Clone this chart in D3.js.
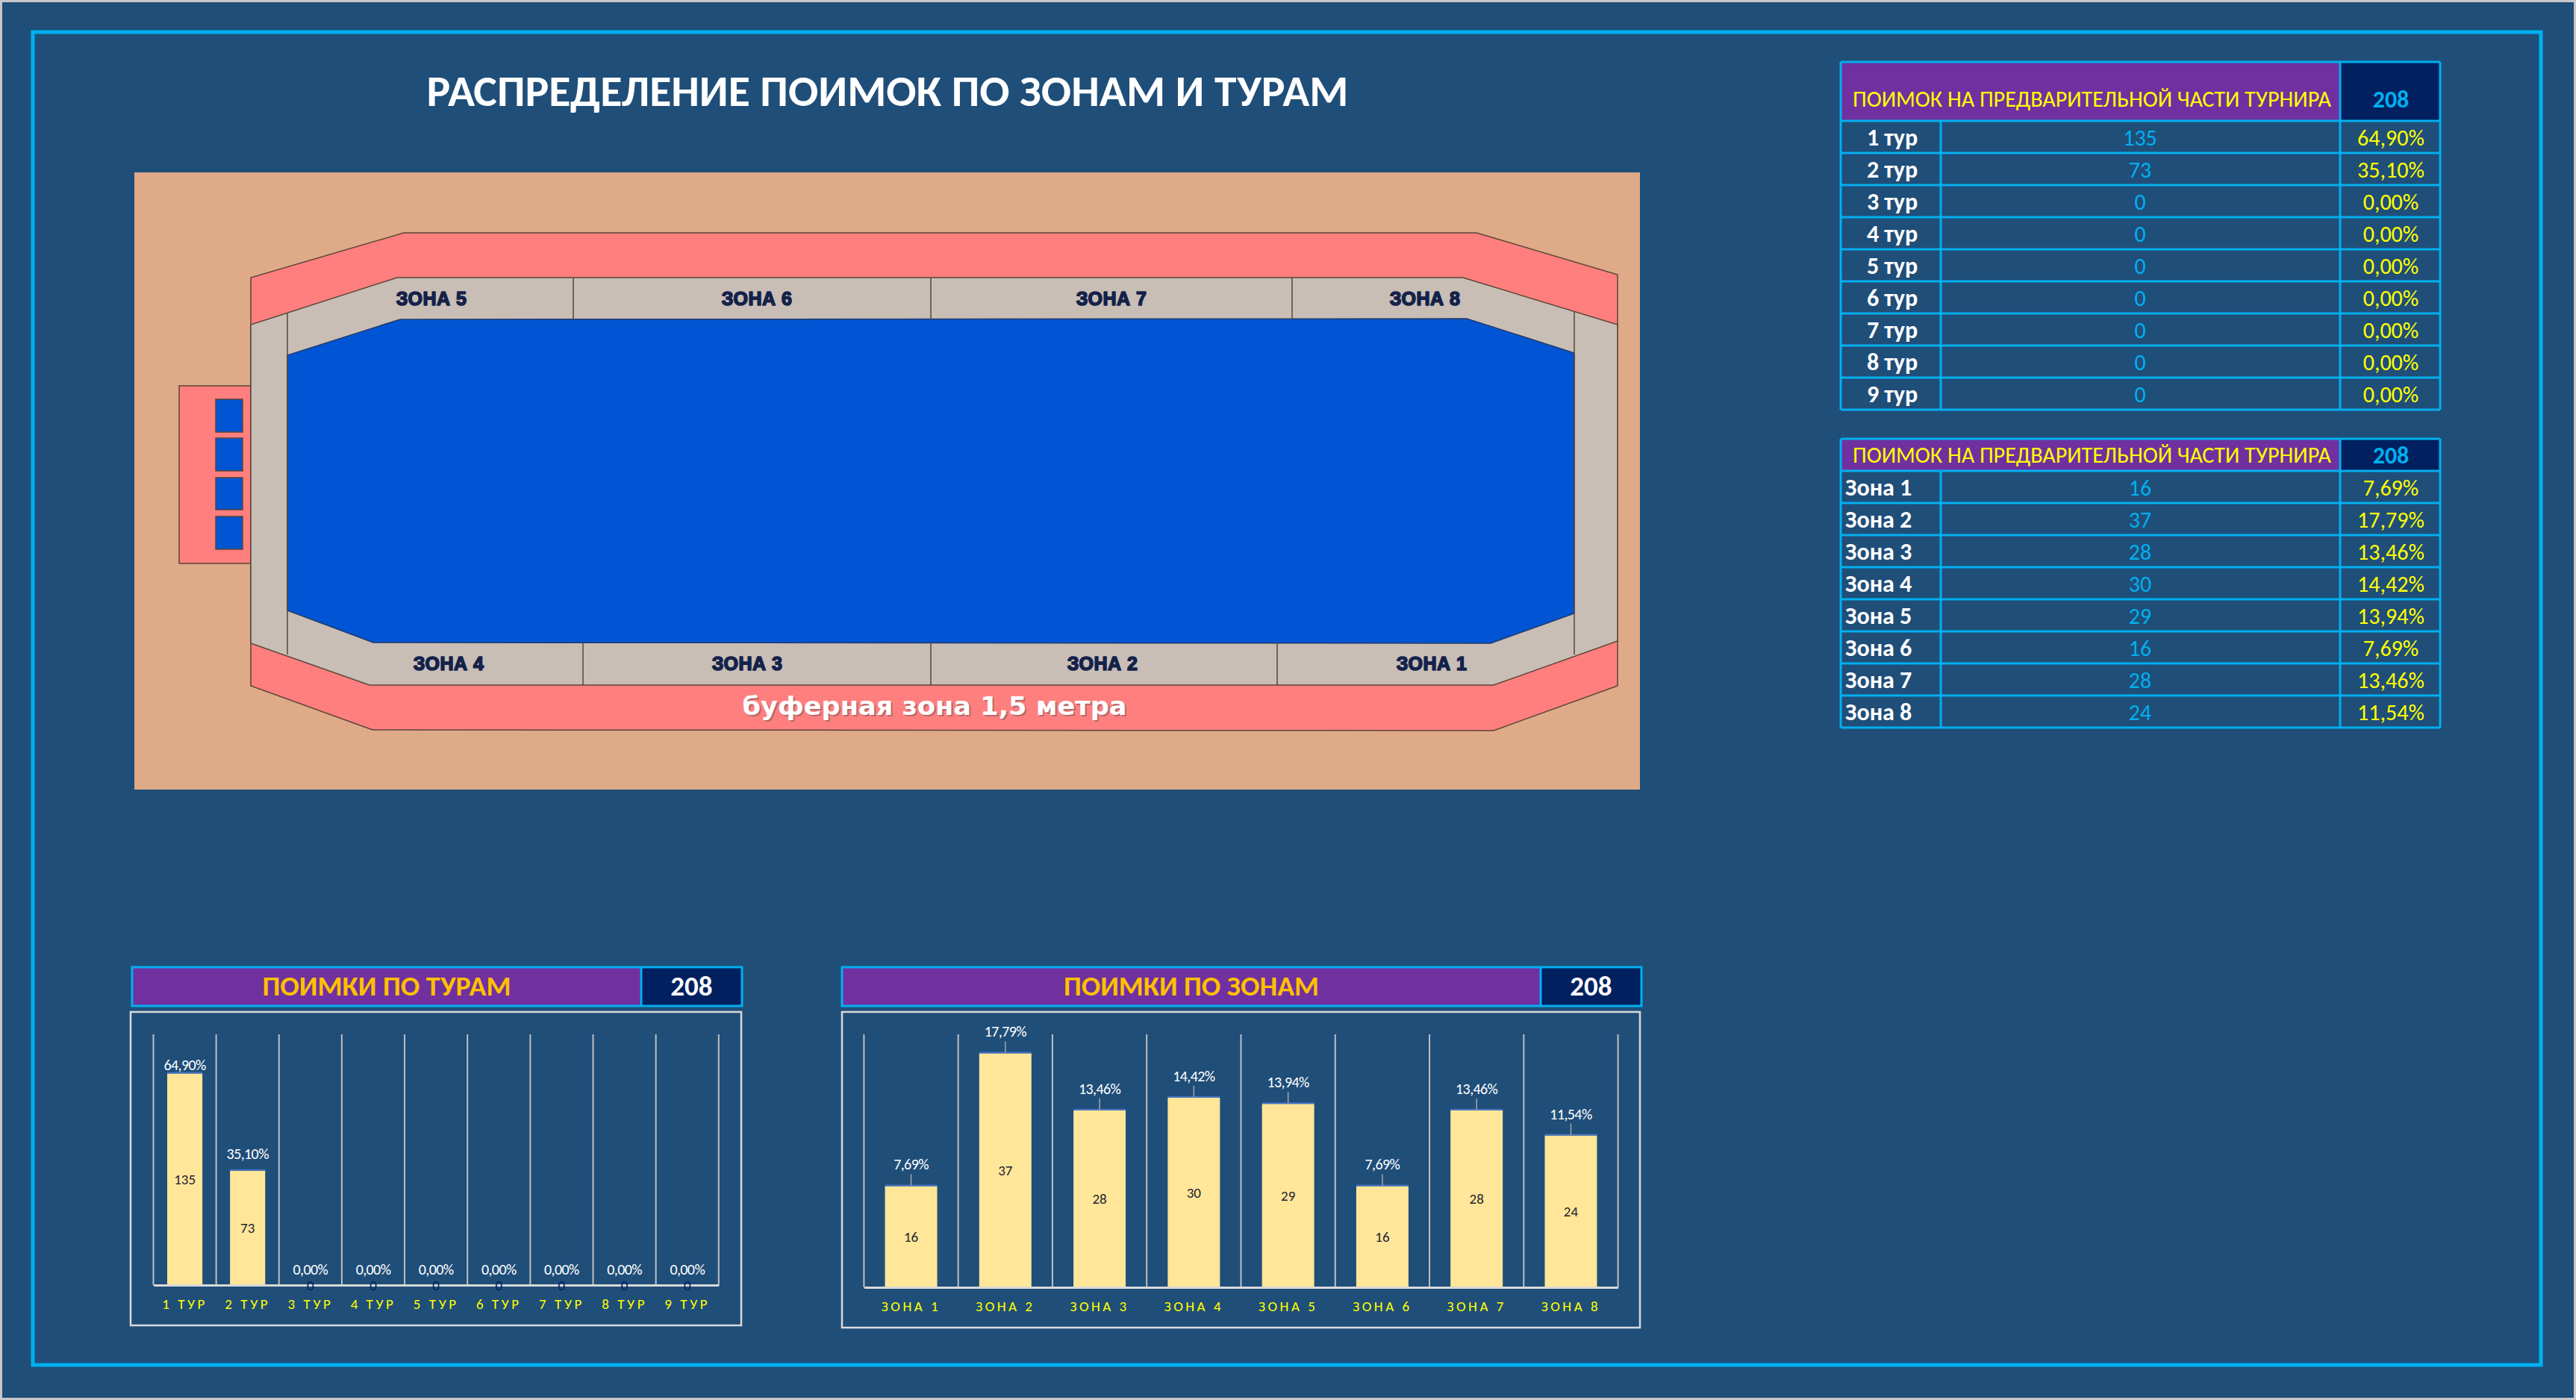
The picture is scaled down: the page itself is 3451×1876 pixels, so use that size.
<!DOCTYPE html>
<html><head><meta charset="utf-8">
<script src="https://cdn.jsdelivr.net/npm/d3@7"></script>
<style>
html,body{margin:0;padding:0;background:#1f4e79;}
svg{display:block;}
</style></head><body>
<svg id="c" width="3451" height="1876" viewBox="0 0 3451 1876"></svg>
<script>
// ---------- DATA ----------
const pageTitle = "РАСПРЕДЕЛЕНИЕ ПОИМОК ПО ЗОНАМ И ТУРАМ";
const tableTitle = "ПОИМОК НА ПРЕДВАРИТЕЛЬНОЙ ЧАСТИ ТУРНИРА";
const tours = ["1 тур","2 тур","3 тур","4 тур","5 тур","6 тур","7 тур","8 тур","9 тур"];
const tourCatches = [135, 73, 0, 0, 0, 0, 0, 0, 0];
const zones = ["Зона 1","Зона 2","Зона 3","Зона 4","Зона 5","Зона 6","Зона 7","Зона 8"];
const zoneCatches = [16, 37, 28, 30, 29, 16, 28, 24];
const tourChartTitle = "ПОИМКИ ПО ТУРАМ";
const zoneChartTitle = "ПОИМКИ ПО ЗОНАМ";
const tourAxisMax = 160;
const zoneAxisMax = 40;
const mapTopZones = ["ЗОНА 5","ЗОНА 6","ЗОНА 7","ЗОНА 8"];
const mapBottomZones = ["ЗОНА 4","ЗОНА 3","ЗОНА 2","ЗОНА 1"];
const bufferText = "буферная зона 1,5 метра";

// ---------- STYLE ----------
const C = {
  bg:"#1f4e79", cyan:"#00b0f0", purple:"#7030a0", navy:"#002060",
  yellow:"#ffff00", orange:"#ffc000", bar:"#ffe699", barTop:"#4472c4",
  sand:"#dfaa88", pink:"#ff7f7f", gray:"#c8beb6", pool:"#0055d4",
  outline:"#5a4636", zoneText:"#14224a", grid:"#bfbfbf", frame:"#d9d9d9"
};
const FONT = "Carlito, Calibri, 'Open Sans', sans-serif";
const MAPFONT = "'Liberation Sans', Arial, sans-serif";
const WIDEFONT = "'DejaVu Sans', Verdana, sans-serif";

const svg = d3.select("#c");
const total = d3.sum(tourCatches);
const pct = v => (v / total * 100).toFixed(2).replace(".", ",") + "%";

// page background + frames
svg.append("rect").attr("x",0).attr("y",0).attr("width",3451).attr("height",1876).attr("fill",C.bg);
svg.append("rect").attr("x",1.5).attr("y",1.5).attr("width",3448).attr("height",1873)
  .attr("fill","none").attr("stroke","#c8c8c8").attr("stroke-width",3);
svg.append("rect").attr("x",44).attr("y",43).attr("width",3360).attr("height",1786)
  .attr("fill","none").attr("stroke",C.cyan).attr("stroke-width",5);

// title
svg.append("text").attr("x",1189).attr("y",142).attr("text-anchor","middle")
  .attr("font-family",FONT).attr("font-weight","bold").attr("font-size",58)
  .attr("fill","#fff").attr("textLength",1235).attr("lengthAdjust","spacingAndGlyphs")
  .text(pageTitle);

// ---------- MAP ----------
const map = svg.append("g");
const poly = pts => pts.map(p => p.join(",")).join(" ");
map.append("rect").attr("x",180).attr("y",231).attr("width",2017).attr("height",827).attr("fill",C.sand);
map.append("rect").attr("x",240).attr("y",517).attr("width",96).attr("height",238)
  .attr("fill",C.pink).attr("stroke",C.outline).attr("stroke-width",1.5);
[[535,579],[587,631],[640,683],[692,736]].forEach(([a,b]) => {
  map.append("rect").attr("x",289).attr("y",a).attr("width",36).attr("height",b-a)
    .attr("fill",C.pool).attr("stroke",C.outline).attr("stroke-width",1.5);
});
const pinkOuter = [[541,312],[1978,312],[2167,368],[2167,919],[2001,979],[499,978],[336,919],[336,372]];
const grayOuter = [[532,372],[1960,372],[2167,435],[2167,859],[2001,918],[495,918],[336,862],[336,435]];
const poolPts = [[536,428],[1965,427],[2109,473],[2109,822],[1997,862],[500,861],[385,818],[385,476]];
map.append("polygon").attr("points",poly(pinkOuter)).attr("fill",C.pink).attr("stroke",C.outline).attr("stroke-width",1.5);
map.append("polygon").attr("points",poly(grayOuter)).attr("fill",C.gray).attr("stroke",C.outline).attr("stroke-width",1.5);
map.append("polygon").attr("points",poly(poolPts)).attr("fill",C.pool).attr("stroke","#233a6a").attr("stroke-width",1.5);
const dividers = [[768,372,768,428],[1247,372,1247,428],[1731,372,1731,428],
  [781,861,781,918],[1247,861,1247,918],[1711,861,1711,918],
  [385,420,385,877],[2109,418,2109,877]];
dividers.forEach(d => map.append("line").attr("x1",d[0]).attr("y1",d[1]).attr("x2",d[2]).attr("y2",d[3])
  .attr("stroke",C.outline).attr("stroke-width",1.5));
const topLabelX = [578, 1014, 1489, 1909];
const botLabelX = [601, 1001, 1477, 1918];
function zoneLabel(s, x, y){
  map.append("text").attr("x",x).attr("y",y+9).attr("text-anchor","middle")
    .attr("font-family",MAPFONT).attr("font-weight","bold").attr("font-size",25)
    .attr("fill",C.zoneText).attr("stroke",C.zoneText).attr("stroke-width",1.6)
    .attr("stroke-linejoin","round").attr("letter-spacing",0.5).text(s);
}
mapTopZones.forEach((s,i) => zoneLabel(s, topLabelX[i], 400));
mapBottomZones.forEach((s,i) => zoneLabel(s, botLabelX[i], 889));
map.append("text").attr("x",1254).attr("y",960).attr("text-anchor","middle")
  .attr("font-family",WIDEFONT).attr("font-weight","bold").attr("font-size",33)
  .attr("fill","#8a5a5a").attr("opacity",0.6).attr("textLength",515).attr("lengthAdjust","spacingAndGlyphs").text(bufferText);
map.append("text").attr("x",1252).attr("y",958).attr("text-anchor","middle")
  .attr("font-family",WIDEFONT).attr("font-weight","bold").attr("font-size",33)
  .attr("fill","#fff").attr("textLength",515).attr("lengthAdjust","spacingAndGlyphs").text(bufferText);

// ---------- TABLES ----------
const colX = [2466, 2600, 3135, 3269];
const ROWH = 43;
function drawTable(y0, yHead, labels, values, centerLabels){
  const g = svg.append("g");
  g.append("rect").attr("x",colX[0]).attr("y",y0).attr("width",colX[2]-colX[0]).attr("height",yHead-y0).attr("fill",C.purple);
  g.append("rect").attr("x",colX[2]).attr("y",y0).attr("width",colX[3]-colX[2]).attr("height",yHead-y0).attr("fill",C.navy);
  const hc = (y0 + yHead) / 2 + (yHead - y0 > 60 ? 10 : 0);
  g.append("text").attr("x",2482).attr("y",hc+10).attr("font-family",FONT).attr("font-size",30)
    .attr("fill",C.yellow).attr("textLength",641).attr("lengthAdjust","spacingAndGlyphs").text(tableTitle);
  g.append("text").attr("x",3203).attr("y",hc+11).attr("text-anchor","middle").attr("font-family",FONT)
    .attr("font-size",32).attr("font-weight","bold").attr("fill",C.cyan).text(d3.sum(values));
  const yEnd = yHead + labels.length * ROWH;
  const rows = g.selectAll("g.row").data(labels).join("g").attr("class","row")
    .attr("transform",(d,i)=>`translate(0,${yHead + i*ROWH})`);
  rows.append("text").attr("x", centerLabels ? 2535 : 2472).attr("y",ROWH/2+11)
    .attr("text-anchor", centerLabels ? "middle" : "start")
    .attr("font-family",FONT).attr("font-weight","bold").attr("font-size",32).attr("fill","#fff").text(d=>d);
  rows.append("text").attr("x",2867).attr("y",ROWH/2+11).attr("text-anchor","middle")
    .attr("font-family",FONT).attr("font-size",30).attr("fill",C.cyan).text((d,i)=>values[i]);
  rows.append("text").attr("x",3203).attr("y",ROWH/2+11).attr("text-anchor","middle")
    .attr("font-family",FONT).attr("font-size",30).attr("fill",C.yellow).text((d,i)=>pct(values[i]));
  // grid lines
  const L = (x1,y1,x2,y2) => g.append("line").attr("x1",x1).attr("y1",y1).attr("x2",x2).attr("y2",y2)
    .attr("stroke",C.cyan).attr("stroke-width",3);
  L(colX[0],y0,colX[3],y0);
  for (let i=0;i<=labels.length;i++) L(colX[0],yHead+i*ROWH,colX[3],yHead+i*ROWH);
  L(colX[0],y0,colX[0],yEnd); L(colX[3],y0,colX[3],yEnd); L(colX[2],y0,colX[2],yEnd);
  L(colX[1],yHead,colX[1],yEnd);
}
drawTable(83, 162, tours, tourCatches, true);
drawTable(588, 631, zones, zoneCatches, false);

// ---------- BAR CHARTS ----------
function drawHeader(x0, xDiv, x1, y0, y1, title, titleW, tot){
  const g = svg.append("g");
  g.append("rect").attr("x",x0).attr("y",y0).attr("width",xDiv-x0).attr("height",y1-y0).attr("fill",C.purple);
  g.append("rect").attr("x",xDiv).attr("y",y0).attr("width",x1-xDiv).attr("height",y1-y0).attr("fill",C.navy);
  g.append("rect").attr("x",x0).attr("y",y0).attr("width",x1-x0).attr("height",y1-y0)
    .attr("fill","none").attr("stroke",C.cyan).attr("stroke-width",3);
  g.append("line").attr("x1",xDiv).attr("x2",xDiv).attr("y1",y0).attr("y2",y1).attr("stroke",C.cyan).attr("stroke-width",3);
  const cy = (y0+y1)/2;
  g.append("text").attr("x",(x0+xDiv)/2).attr("y",cy+12).attr("text-anchor","middle")
    .attr("font-family",FONT).attr("font-weight","bold").attr("font-size",36).attr("fill",C.orange)
    .attr("textLength",titleW).attr("lengthAdjust","spacingAndGlyphs").text(title);
  g.append("text").attr("x",(xDiv+x1)/2).attr("y",cy+12).attr("text-anchor","middle")
    .attr("font-family",FONT).attr("font-weight","bold").attr("font-size",37).attr("fill","#fff").text(tot);
}

function drawBars(cfg){
  const g = svg.append("g");
  g.append("rect").attr("x",cfg.frame[0]).attr("y",cfg.frame[1]).attr("width",cfg.frame[2]-cfg.frame[0])
    .attr("height",cfg.frame[3]-cfg.frame[1]).attr("fill","none").attr("stroke",C.frame).attr("stroke-width",2.5);
  const x = d3.scaleBand().domain(cfg.cats).range(cfg.xr).paddingInner(cfg.pad).paddingOuter(cfg.pad/2);
  const y = d3.scaleLinear().domain([0,cfg.max]).range(cfg.yr);
  const step = x.step();
  g.selectAll("line.grid").data(d3.range(cfg.cats.length+1)).join("line").attr("class","grid")
    .attr("x1",i=>cfg.xr[0]+i*step).attr("x2",i=>cfg.xr[0]+i*step)
    .attr("y1",y(cfg.max)).attr("y2",y(0)).attr("stroke",C.grid).attr("stroke-width",2);
  g.selectAll("rect.bar").data(cfg.vals).join("rect").attr("class","bar")
    .attr("x",(d,i)=>x(cfg.cats[i])).attr("width",x.bandwidth())
    .attr("y",d=>y(d)).attr("height",d=>y(0)-y(d)).attr("fill",C.bar);
  g.selectAll("line.top").data(cfg.vals.filter(v=>v>0)).join("line").attr("class","top")
    .attr("x1",(d,i)=>x(cfg.cats[i])).attr("x2",(d,i)=>x(cfg.cats[i])+x.bandwidth())
    .attr("y1",d=>y(d)-1).attr("y2",d=>y(d)-1).attr("stroke",C.barTop).attr("stroke-width",2);
  const ax = g.append("g").attr("transform",`translate(0,${y(0)})`)
    .call(d3.axisBottom(x).tickSize(0).tickSizeOuter(0).tickFormat(d=>d.toUpperCase()));
  ax.select(".domain").attr("stroke",C.frame).attr("stroke-width",3);
  ax.selectAll("text").attr("dy",null).attr("y",cfg.labelDy).attr("dominant-baseline","central")
    .attr("font-family",FONT).attr("font-size",19).attr("letter-spacing",cfg.ls).attr("fill",C.yellow);
  g.selectAll("text.val").data(cfg.vals).join("text").attr("class","val")
    .attr("x",(d,i)=>x(cfg.cats[i])+x.bandwidth()/2)
    .attr("y",d=> d>0 ? (y(d)+y(0))/2 : y(0)).attr("dy","0.35em")
    .attr("text-anchor","middle").attr("font-family",FONT).attr("font-size",19)
    .attr("fill", d=> d>0 ? "#1e2230" : C.navy).text(d=>d);
  g.selectAll("text.pct").data(cfg.vals).join("text").attr("class","pct")
    .attr("x",(d,i)=>x(cfg.cats[i])+x.bandwidth()/2)
    .attr("y",d=>y(d)-cfg.lift(d)).attr("dy","0.35em")
    .attr("text-anchor","middle").attr("font-family",FONT).attr("font-size",20)
    .attr("fill","#fff").attr("letter-spacing",-0.6).text(d=>pct(d));
  if (cfg.leaders){
    g.selectAll("line.lead").data(cfg.vals).join("line").attr("class","lead")
      .attr("x1",(d,i)=>x(cfg.cats[i])+x.bandwidth()/2).attr("x2",(d,i)=>x(cfg.cats[i])+x.bandwidth()/2)
      .attr("y1",d=>y(d)-cfg.lift(d)+13).attr("y2",d=>y(d)-1)
      .attr("stroke","#a6a6a6").attr("stroke-width",1.5);
  }
}

drawHeader(177, 859, 994, 1296, 1348, tourChartTitle, 333, total);
drawBars({cats:tours, vals:tourCatches, max:tourAxisMax, xr:[205.5,962.8], yr:[1722,1386], pad:0.44,
  frame:[175,1356,993,1776], labelDy:25, ls:3.5, leaders:false, lift:d=> d>0 ? (d>100?12:23) : 21});

drawHeader(1128, 2064, 2199, 1296, 1348, zoneChartTitle, 342, d3.sum(zoneCatches));
drawBars({cats:zones, vals:zoneCatches, max:zoneAxisMax, xr:[1157.4,2167.6], yr:[1725,1386], pad:0.446,
  frame:[1128,1356,2197,1779], labelDy:25, ls:3.5, leaders:true, lift:d=>29});
</script>
</body></html>
